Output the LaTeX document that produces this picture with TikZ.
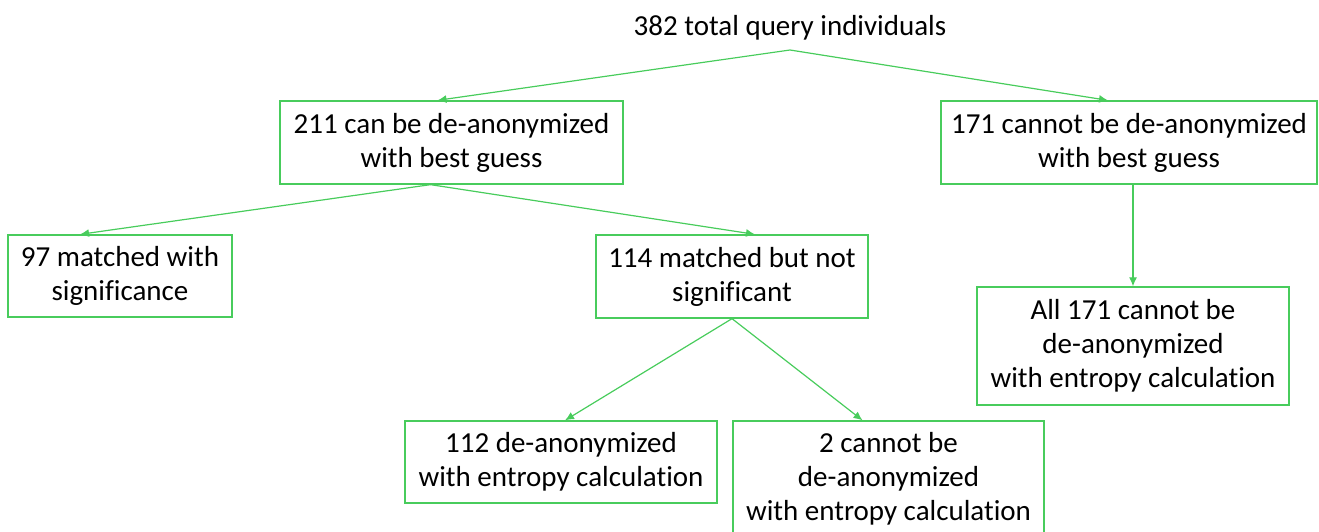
\documentclass[tikz,border=0pt]{standalone}
\usepackage{fontspec}
\setmainfont[Ligatures=NoCommon]{Carlito}
\usetikzlibrary{arrows.meta}
\definecolor{lgreen}{RGB}{72,204,92}
\tikzset{
  box/.style={draw=lgreen, line width=1.3pt, align=center, inner sep=0pt, font=\fontsize{29}{34}\selectfont},
  lbl/.style={align=center, inner sep=0pt, font=\fontsize{29}{34}\selectfont},
  arr/.style={draw=lgreen, line width=1.2pt, -{Latex[length=9pt,width=8pt]}}
}
\begin{document}
\begin{tikzpicture}[x=1pt,y=-1pt]
\useasboundingbox (0,0) rectangle (1319,532);
\node[lbl] (top) at (790,28) {382 total query individuals};
\coordinate (root) at (790,50);
\node[box, minimum width=343pt, minimum height=83pt] (A) at (451.5,142.5) {211 can be de-anonymized\\with best guess};
\node[box, minimum width=376pt, minimum height=83pt] (B) at (1129,142.5) {171 cannot be de-anonymized\\with best guess};
\node[box, minimum width=224pt, minimum height=82pt] (C) at (120,276) {97 matched with\\significance};
\node[box, minimum width=272pt, minimum height=83pt] (D) at (732,276.5) {114 matched but not\\significant};
\node[box, minimum width=312pt, minimum height=118pt] (E) at (1133,346) {All 171 cannot be\\de-anonymized\\with entropy calculation};
\node[box, minimum width=312pt, minimum height=82pt] (F) at (561,462) {112 de-anonymized\\with entropy calculation};
\node[box, minimum width=311pt, minimum height=115pt] (G) at (888.5,478.5) {2 cannot be\\de-anonymized\\with entropy calculation};
\draw[arr] (root) -- ([xshift=-14pt]A.north);
\draw[arr] (root) -- ([xshift=-21pt]B.north);
\draw[arr] ([xshift=-21pt]A.south) -- ([xshift=-40pt]C.north);
\draw[arr] ([xshift=-21pt]A.south) -- ([xshift=23pt]D.north);
\draw[arr] (E.north |- B.south) -- (E.north);
\draw[arr] (D.south) -- ([xshift=4pt]F.north);
\draw[arr] (D.south) -- ([xshift=-26pt]G.north);
\end{tikzpicture}
\end{document}
